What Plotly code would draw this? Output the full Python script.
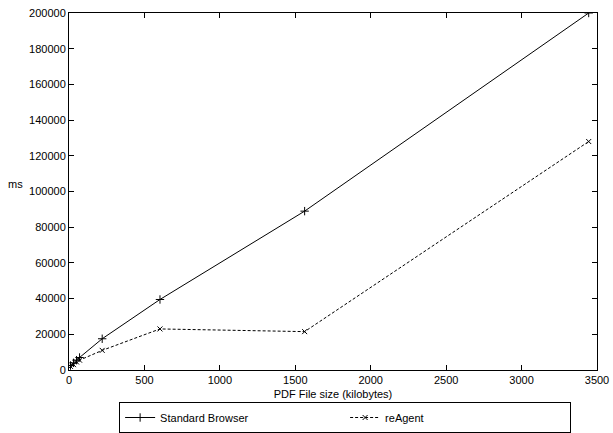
import plotly.graph_objects as go

file_size_kb = [10, 30, 50, 70, 220, 603, 1562, 3445]
standard_ms = [2500, 4000, 5500, 7000, 17500, 39500, 89000, 200000]
reagent_ms = [2000, 3000, 4500, 5500, 11000, 23000, 21500, 128000]

x_ticks = [0, 500, 1000, 1500, 2000, 2500, 3000, 3500]
y_ticks = [0, 20000, 40000, 60000, 80000, 100000, 120000, 140000, 160000, 180000, 200000]
y_tick_labels = [str(v) for v in y_ticks]

fig = go.Figure()
fig.add_trace(go.Scatter(
    x=file_size_kb, y=standard_ms, name="Standard Browser", mode="lines+markers",
    line=dict(color="black", width=1),
    marker=dict(symbol="cross-thin", size=6, line=dict(color="black", width=1)),
))
fig.add_trace(go.Scatter(
    x=file_size_kb, y=reagent_ms, name="reAgent", mode="lines+markers",
    line=dict(color="black", width=1, dash="3px,2px"),
    marker=dict(symbol="x-thin", size=5, line=dict(color="black", width=1)),
))

axis_common = dict(
    showgrid=False, zeroline=False, showline=True, linecolor="black", linewidth=1,
    mirror="ticks", ticks="inside", ticklen=5, tickcolor="black",
    tickfont=dict(size=11, color="black"), automargin=False,
)
fig.update_xaxes(range=[0, 3500], tickvals=x_ticks, **axis_common,
                 title=dict(text="PDF File size (kilobytes)", font=dict(size=11, color="black"), standoff=5))
fig.update_yaxes(range=[0, 200000], tickvals=y_ticks, ticktext=y_tick_labels, **axis_common)

fig.add_annotation(text="ms", xref="paper", yref="paper", x=-0.083, y=0.521, xanchor="right",
                   yanchor="middle", showarrow=False, font=dict(size=11, color="black"))

fig.update_layout(
    width=613, height=433,
    margin=dict(l=69, r=16, t=13, b=63),
    paper_bgcolor="white", plot_bgcolor="white",
    font=dict(family="Liberation Sans, Arial, sans-serif", size=11, color="black"),
    legend=dict(orientation="h", xref="container", yref="container",
                x=0.563, xanchor="center", y=0.0, yanchor="bottom",
                bordercolor="black", borderwidth=1, entrywidth=180, entrywidthmode="pixels",
                font=dict(size=11), itemwidth=30),
)
fig.write_html("out.html", post_script="document.body.style.margin='0';",
               config={"displayModeBar": False})
